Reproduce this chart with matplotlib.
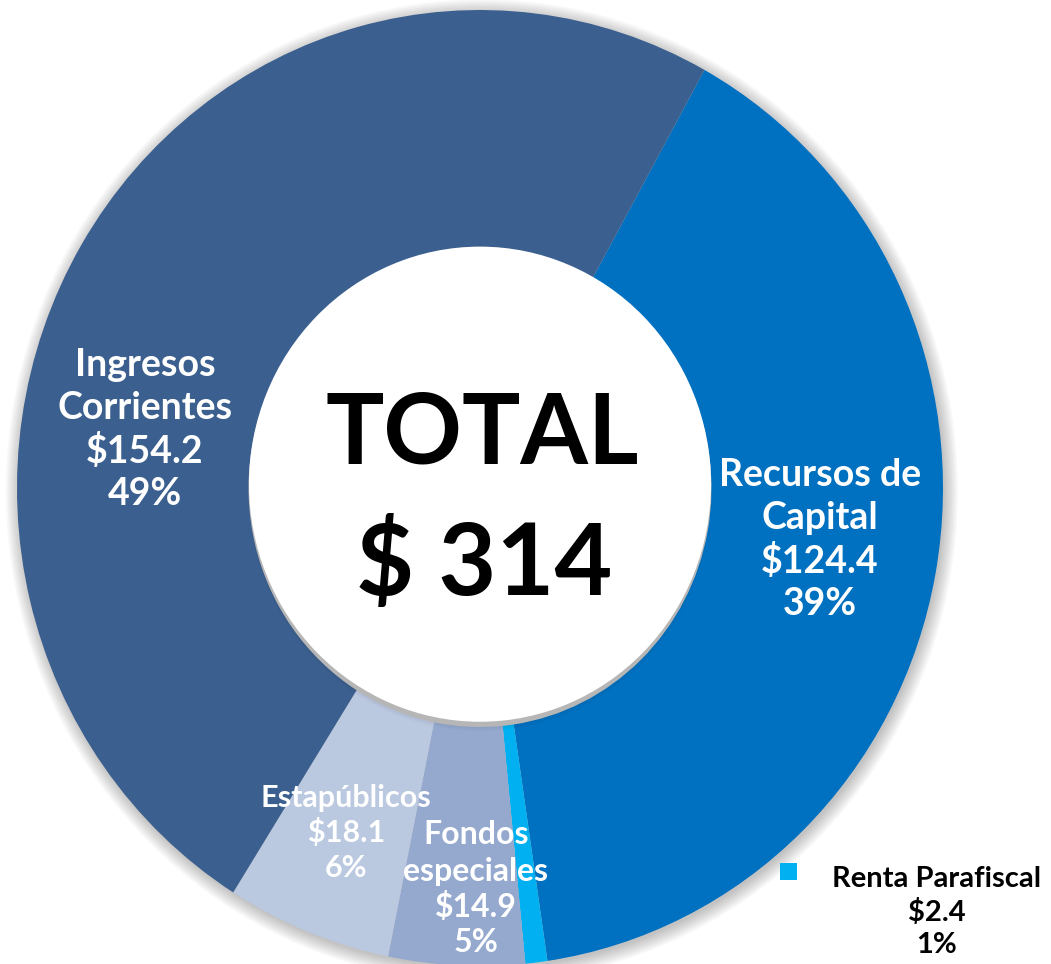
import numpy as np
import matplotlib.pyplot as plt
from matplotlib.patches import Ellipse, Rectangle

plt.rcParams['font.family'] = ['Lato', 'DejaVu Sans']

# datos
categorias = ['Recursos de\nCapital', 'Renta Parafiscal', 'Fondos\nespeciales', 'Estapúblicos', 'Ingresos\nCorrientes']
valores = [124.4, 2.4, 14.9, 18.1, 154.2]
porcentajes = ['39%', '1%', '5%', '6%', '49%']
colores = ['#0070C0', '#00B0F0', '#95A9CF', '#BAC8E0', '#3B5F8E']
total = sum(valores)

W, H = 1051, 964
cx, cy, rx, ry = 480, 488, 463, 478   # centro y radios del anillo en pixeles


def fxy(px, py):
    return px / W, 1 - py / H


def bloque(px, py_top, paso, lineas, fs, color):
    # una linea por texto, centradas
    for j, s in enumerate(lineas):
        fig.text(*fxy(px, py_top + j * paso), s, fontsize=fs, fontweight='bold',
                 color=color, ha='center', va='center', zorder=5)


fig = plt.figure(figsize=(W / 100, H / 100), dpi=100)
ax = fig.add_axes([0, 0, 1, 1])

# sombra suave alrededor del anillo
for k in range(8):
    ax.add_patch(Ellipse((0.004, -0.006), 2 * (1 + 0.004 * k), 2 * (1 + 0.004 * k),
                         color='#000000', alpha=0.03, lw=0, zorder=0))

wedges, _ = ax.pie(valores, colors=colores, startangle=61, counterclock=False,
                   radius=1, wedgeprops=dict(width=0.5, linewidth=0))
for w in wedges:
    w.set_zorder(2)

# sombra interior del hueco
for k in range(4):
    ax.add_patch(Ellipse((0, -0.003 * k), 1.0, 1.0, color='#000000', alpha=0.015, lw=0, zorder=3))
ax.add_patch(Ellipse((0, 0.008), 0.998, 0.994, color='white', lw=0, zorder=4))

ax.set_aspect('auto')
ax.set_xlim(-cx / rx, (W - cx) / rx)
ax.set_ylim(-(H - cy) / ry, cy / ry)
ax.axis('off')

# texto central
fig.text(*fxy(482, 463), 'TOTAL', fontsize=70, fontweight='bold', ha='center', va='baseline', color='black')
fig.text(*fxy(484, 595), '$ ' + f'{total:.0f}', fontsize=72, fontweight='bold', ha='center', va='baseline', color='black')

# etiquetas de los sectores: (x, y primera linea, paso, tamano)
etiquetas = {
    0: (820, 475, 43, 27),
    2: (476, 835, 36, 23),
    3: (346, 798, 35, 22),
    4: (145, 365, 43, 27),
}
for i, (px, py, paso, fs) in etiquetas.items():
    lineas = categorias[i].split('\n') + [f'${valores[i]:.1f}', porcentajes[i]]
    bloque(px, py, paso, lineas, fs, 'white')

# leyenda de Renta Parafiscal
fig.patches.append(Rectangle(fxy(780, 880), 17 / W, 17 / H, transform=fig.transFigure,
                             facecolor=colores[1], lw=0, figure=fig))
bloque(937, 879, 33, [categorias[1], f'${valores[1]:.1f}', porcentajes[1]], 21, 'black')

fig.savefig('out.png', dpi=100)
